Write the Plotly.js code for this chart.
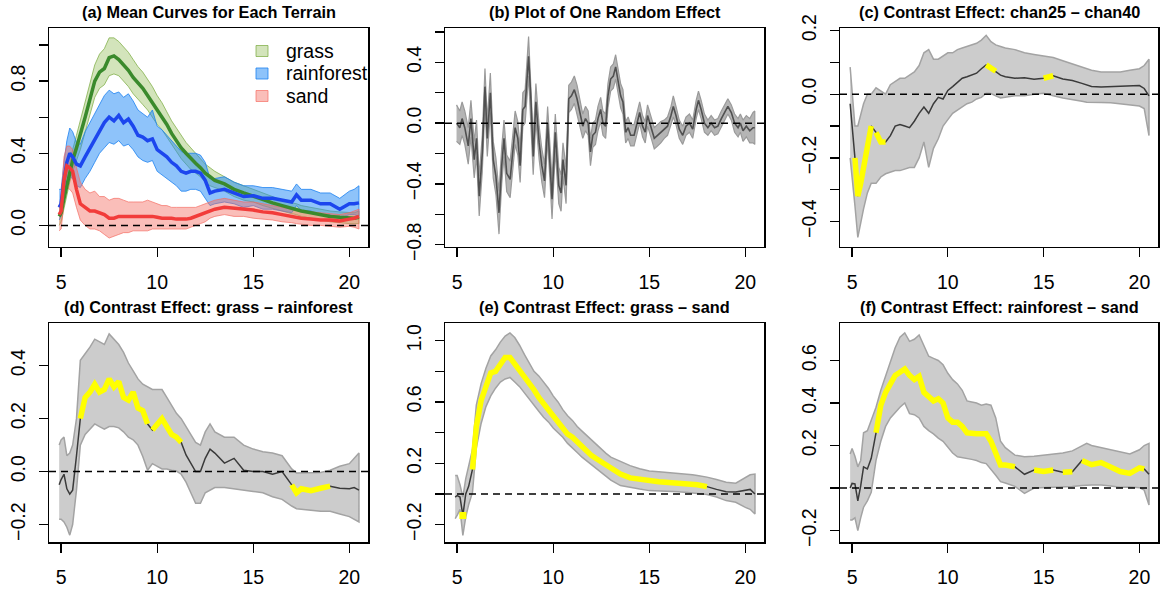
<!DOCTYPE html>
<html><head><meta charset="utf-8">
<script src="https://cdn.plot.ly/plotly-3.0.1.min.js"></script>
<style>html,body{margin:0;padding:0;background:#fff}</style>
</head><body><div id="chart" style="width:1162px;height:591px"></div>
<script>
// ---------- data ----------
const xGrid = [4.9,5.0,5.15,5.3,5.45,5.6,5.8,6.0,6.25,6.5,6.75,7.0,7.25,7.5,7.75,8.0,8.25,8.5,8.75,9.0,9.25,9.5,9.75,10.0,10.25,10.5,10.75,11.0,11.25,11.5,11.75,12.0,12.25,12.5,12.75,13.0,13.5,14.0,14.5,15.0,15.5,16.0,16.5,17.0,17.25,17.5,18.0,18.5,19.0,19.5,20.0,20.25,20.5];

// (a) mean curves
const grassMean = [0.05,0.07,0.15,0.22,0.3,0.36,0.43,0.5,0.6,0.7,0.8,0.85,0.87,0.93,0.94,0.92,0.89,0.86,0.82,0.79,0.76,0.72,0.68,0.64,0.6,0.56,0.51,0.47,0.43,0.4,0.37,0.345,0.32,0.29,0.27,0.25,0.23,0.2,0.18,0.16,0.14,0.125,0.11,0.095,0.09,0.08,0.07,0.06,0.05,0.045,0.04,0.04,0.045];
const grassLo = [0.0,0.02,0.09,0.16,0.24,0.3,0.36,0.42,0.51,0.61,0.71,0.76,0.78,0.83,0.84,0.83,0.8,0.77,0.73,0.7,0.67,0.64,0.6,0.56,0.53,0.49,0.45,0.41,0.37,0.34,0.31,0.29,0.27,0.24,0.22,0.21,0.19,0.16,0.14,0.13,0.11,0.095,0.08,0.065,0.06,0.05,0.04,0.03,0.02,0.015,0.01,0.01,0.01];
const grassHi = [0.1,0.12,0.21,0.28,0.36,0.42,0.5,0.58,0.69,0.79,0.89,0.95,0.98,1.04,1.04,1.02,0.99,0.96,0.92,0.88,0.85,0.81,0.77,0.72,0.68,0.63,0.58,0.54,0.5,0.46,0.43,0.4,0.37,0.34,0.32,0.3,0.27,0.24,0.22,0.2,0.18,0.16,0.14,0.125,0.12,0.11,0.1,0.09,0.08,0.075,0.07,0.07,0.08];
const rainMean = [0.1,0.12,0.25,0.35,0.4,0.38,0.34,0.33,0.38,0.43,0.48,0.53,0.57,0.6,0.58,0.61,0.57,0.59,0.55,0.5,0.49,0.47,0.48,0.42,0.4,0.38,0.35,0.33,0.3,0.29,0.3,0.3,0.29,0.25,0.18,0.19,0.2,0.18,0.16,0.165,0.15,0.15,0.14,0.13,0.17,0.14,0.14,0.12,0.12,0.09,0.12,0.12,0.125];
const rainLo = [0.03,0.05,0.15,0.22,0.27,0.26,0.22,0.21,0.26,0.3,0.35,0.4,0.43,0.46,0.45,0.47,0.44,0.45,0.42,0.38,0.36,0.35,0.36,0.3,0.28,0.26,0.24,0.22,0.19,0.19,0.2,0.2,0.19,0.15,0.11,0.12,0.13,0.12,0.1,0.11,0.09,0.09,0.08,0.07,0.11,0.08,0.08,0.06,0.06,0.04,0.06,0.06,0.05];
const rainHi = [0.2,0.2,0.35,0.47,0.54,0.52,0.46,0.45,0.52,0.57,0.62,0.67,0.72,0.75,0.73,0.74,0.71,0.73,0.69,0.64,0.62,0.6,0.64,0.55,0.53,0.5,0.47,0.44,0.41,0.4,0.4,0.4,0.39,0.35,0.26,0.26,0.27,0.24,0.22,0.22,0.21,0.21,0.2,0.19,0.23,0.2,0.2,0.18,0.18,0.15,0.19,0.2,0.22];
const sandMean = [0.06,0.08,0.25,0.33,0.32,0.3,0.2,0.12,0.1,0.08,0.08,0.07,0.06,0.04,0.04,0.05,0.05,0.05,0.05,0.05,0.05,0.05,0.05,0.045,0.04,0.04,0.04,0.035,0.035,0.035,0.04,0.05,0.055,0.07,0.08,0.09,0.1,0.095,0.09,0.085,0.075,0.07,0.06,0.05,0.045,0.04,0.035,0.03,0.03,0.025,0.035,0.04,0.05];
const sandLo = [-0.03,-0.02,0.12,0.21,0.2,0.18,0.1,0.03,0.0,-0.02,-0.02,-0.03,-0.05,-0.07,-0.06,-0.05,-0.04,-0.04,-0.03,-0.03,-0.03,-0.03,-0.02,-0.02,-0.02,-0.02,-0.02,-0.02,-0.02,-0.02,-0.01,0.0,0.01,0.02,0.04,0.05,0.06,0.05,0.05,0.04,0.035,0.03,0.02,0.015,0.01,0.005,0.0,0.0,-0.005,-0.01,-0.005,-0.01,-0.02];
const sandHi = [0.11,0.15,0.38,0.44,0.44,0.42,0.32,0.24,0.2,0.18,0.19,0.16,0.16,0.14,0.15,0.15,0.14,0.13,0.13,0.13,0.13,0.14,0.13,0.12,0.11,0.11,0.1,0.1,0.1,0.1,0.1,0.1,0.11,0.12,0.13,0.14,0.15,0.14,0.13,0.13,0.12,0.11,0.1,0.09,0.085,0.08,0.075,0.07,0.065,0.06,0.07,0.08,0.09];

// (b) one random effect
const xB = [4.97,5.14,5.26,5.40,5.58,5.72,5.89,6.01,6.15,6.31,6.45,6.57,6.73,6.88,7.02,7.18,7.32,7.44,7.58,7.76,7.88,8.02,8.16,8.28,8.42,8.54,8.72,8.84,8.96,9.10,9.27,9.41,9.55,9.71,9.81,9.94,10.11,10.29,10.41,10.51,10.67,10.81,10.95,11.10,11.24,11.38,11.54,11.68,11.82,11.94,12.06,12.20,12.33,12.47,12.59,12.73,12.85,12.99,13.13,13.25,13.37,13.51,13.63,13.77,13.90,14.03,14.21,14.38,14.50,14.65,14.79,14.91,15.08,15.26,15.43,15.60,15.78,15.95,16.13,16.25,16.39,16.56,16.74,16.91,17.09,17.26,17.44,17.56,17.70,17.87,18.05,18.22,18.40,18.57,18.75,18.92,19.09,19.27,19.44,19.62,19.74,19.88,20.05,20.23,20.40,20.49];
const bMean = [0,-0.03,0.03,-0.03,-0.15,0.03,-0.24,-0.1,-0.48,-0.2,0.24,-0.1,0.2,-0.24,-0.35,-0.59,-0.28,-0.1,-0.33,-0.37,-0.21,-0.03,-0.1,-0.28,0.09,0.11,0.44,0.16,-0.22,0.14,-0.13,-0.28,-0.38,0.0,-0.22,-0.5,-0.06,-0.41,-0.46,-0.24,-0.41,0.16,0.18,0.22,0.16,0.07,-0.02,0.03,0.0,-0.19,-0.08,-0.06,0.03,0.09,0.0,-0.02,0.18,0.29,0.31,0.37,0.29,0.18,0.14,-0.06,-0.03,-0.08,-0.08,0.0,0.07,-0.02,-0.06,0.05,-0.02,-0.1,-0.08,-0.06,-0.04,-0.02,0.05,0.11,0.05,-0.04,-0.08,-0.02,0.0,-0.04,0.09,0.15,0.09,0.0,-0.03,0.0,-0.03,-0.02,0.03,0.07,0.11,0.07,0.0,-0.03,0.0,-0.05,-0.02,-0.05,-0.03,-0.03];
const bLo = [-0.12,-0.14,-0.08,-0.14,-0.27,-0.09,-0.36,-0.22,-0.61,-0.32,0.12,-0.22,0.07,-0.36,-0.47,-0.73,-0.4,-0.22,-0.45,-0.49,-0.32,-0.14,-0.21,-0.39,-0.02,0.0,0.31,0.04,-0.34,0.02,-0.24,-0.39,-0.49,-0.11,-0.33,-0.63,-0.18,-0.53,-0.58,-0.35,-0.53,0.07,0.09,0.13,0.07,-0.01,-0.1,-0.05,-0.08,-0.28,-0.16,-0.14,-0.05,0.01,-0.08,-0.1,0.1,0.21,0.23,0.29,0.21,0.1,0.06,-0.13,-0.1,-0.15,-0.15,-0.07,0.0,-0.09,-0.13,-0.02,-0.09,-0.17,-0.15,-0.13,-0.1,-0.08,-0.01,0.04,-0.01,-0.1,-0.14,-0.08,-0.06,-0.1,0.03,0.09,0.03,-0.06,-0.08,-0.05,-0.08,-0.07,-0.02,0.02,0.06,0.02,-0.06,-0.09,-0.06,-0.12,-0.09,-0.13,-0.13,-0.14];
const bHi = [0.12,0.08,0.14,0.08,-0.03,0.15,-0.12,0.02,-0.35,-0.08,0.36,0.02,0.33,-0.12,-0.23,-0.45,-0.16,0.02,-0.21,-0.25,-0.1,0.08,0.01,-0.17,0.2,0.22,0.57,0.28,-0.1,0.26,-0.02,-0.17,-0.27,0.11,-0.11,-0.37,0.06,-0.29,-0.34,-0.13,-0.29,0.25,0.27,0.31,0.25,0.15,0.06,0.11,0.08,-0.1,0.0,0.02,0.11,0.17,0.08,0.06,0.26,0.37,0.39,0.45,0.37,0.26,0.22,0.01,0.04,-0.01,-0.01,0.07,0.14,0.05,0.01,0.12,0.05,-0.03,-0.01,0.01,0.02,0.04,0.11,0.18,0.11,0.02,-0.02,0.04,0.06,0.02,0.15,0.21,0.15,0.06,0.02,0.05,0.02,0.03,0.08,0.12,0.16,0.12,0.06,0.03,0.06,0.02,0.05,0.03,0.07,0.08];

// (c) chan25 - chan40
const cMean = [-0.03,-0.09,-0.2,-0.32,-0.28,-0.23,-0.17,-0.1,-0.12,-0.15,-0.15,-0.13,-0.1,-0.095,-0.1,-0.105,-0.085,-0.06,-0.04,-0.06,-0.03,-0.01,-0.015,0.012,0.024,0.038,0.05,0.055,0.06,0.066,0.08,0.092,0.082,0.072,0.06,0.055,0.05,0.052,0.047,0.05,0.058,0.048,0.043,0.034,0.03,0.024,0.023,0.024,0.026,0.027,0.027,0.018,-0.005];
const cLo = [-0.2,-0.25,-0.35,-0.45,-0.4,-0.36,-0.31,-0.28,-0.28,-0.26,-0.25,-0.245,-0.24,-0.24,-0.235,-0.23,-0.23,-0.2,-0.15,-0.23,-0.17,-0.14,-0.1,-0.08,-0.06,-0.05,-0.04,-0.03,-0.025,-0.015,-0.01,0.003,0.002,-0.005,-0.012,-0.01,-0.005,-0.005,0.0,0.003,-0.005,-0.012,-0.018,-0.022,-0.025,-0.026,-0.026,-0.027,-0.03,-0.033,-0.037,-0.045,-0.13];
const cHi = [0.085,0.0,-0.1,-0.1,-0.06,-0.03,0.0,0.0,0.02,0.01,0.0,0.03,0.04,0.05,0.05,0.06,0.07,0.09,0.13,0.14,0.11,0.11,0.12,0.13,0.13,0.14,0.145,0.15,0.155,0.16,0.17,0.185,0.165,0.155,0.15,0.145,0.14,0.13,0.125,0.12,0.115,0.105,0.095,0.085,0.08,0.075,0.07,0.07,0.07,0.075,0.08,0.09,0.11];

// (d) grass - rainforest
const dMean = [-0.05,-0.03,-0.01,-0.065,-0.085,-0.07,0.06,0.2,0.28,0.3,0.33,0.3,0.31,0.35,0.32,0.34,0.28,0.27,0.3,0.24,0.23,0.18,0.157,0.18,0.2,0.17,0.14,0.13,0.11,0.063,0.03,0.0,0.0,0.05,0.085,0.07,0.032,0.05,0.005,0.0,0.0,-0.01,0.0,-0.05,-0.08,-0.065,-0.072,-0.063,-0.055,-0.063,-0.065,-0.06,-0.07];
const dLo = [-0.18,-0.18,-0.19,-0.21,-0.24,-0.2,-0.07,0.1,0.14,0.16,0.18,0.17,0.16,0.17,0.17,0.165,0.15,0.13,0.12,0.1,0.057,0.005,0.03,0.02,0.01,0.01,0.005,0.002,-0.01,-0.04,-0.08,-0.12,-0.12,-0.08,-0.07,-0.06,-0.06,-0.065,-0.07,-0.075,-0.08,-0.095,-0.105,-0.13,-0.14,-0.14,-0.145,-0.15,-0.15,-0.16,-0.17,-0.18,-0.19];
const dHi = [0.1,0.12,0.13,0.06,0.07,0.1,0.2,0.42,0.445,0.47,0.5,0.49,0.48,0.52,0.5,0.48,0.45,0.41,0.38,0.35,0.33,0.32,0.31,0.31,0.31,0.28,0.25,0.22,0.2,0.17,0.14,0.11,0.1,0.15,0.18,0.15,0.13,0.13,0.1,0.085,0.075,0.07,0.06,0.01,-0.005,-0.005,-0.005,-0.003,0.005,0.02,0.03,0.05,0.07];

// (e) grass - sand
const eMean = [-0.02,-0.01,-0.02,-0.14,0.0,0.05,0.16,0.44,0.61,0.71,0.79,0.8,0.85,0.89,0.89,0.85,0.81,0.77,0.72,0.68,0.63,0.59,0.56,0.52,0.48,0.43,0.39,0.37,0.34,0.3,0.275,0.25,0.23,0.21,0.185,0.16,0.13,0.105,0.095,0.085,0.08,0.075,0.072,0.07,0.065,0.06,0.048,0.03,0.015,0.013,0.026,0.03,0.0];
const eLo = [-0.16,-0.14,-0.1,-0.27,-0.15,-0.07,0.01,0.3,0.46,0.57,0.64,0.69,0.73,0.75,0.76,0.73,0.7,0.66,0.62,0.58,0.54,0.5,0.47,0.43,0.4,0.37,0.33,0.3,0.27,0.24,0.21,0.185,0.16,0.14,0.115,0.09,0.055,0.043,0.032,0.022,0.02,0.017,0.014,0.01,0.008,0.004,-0.004,-0.02,-0.043,-0.054,-0.087,-0.1,-0.13];
const eHi = [0.12,0.12,0.06,-0.02,0.1,0.18,0.29,0.58,0.72,0.82,0.9,0.94,0.99,1.03,1.05,1.02,0.97,0.91,0.85,0.8,0.77,0.73,0.69,0.64,0.6,0.55,0.51,0.48,0.44,0.41,0.38,0.35,0.32,0.29,0.265,0.24,0.21,0.185,0.165,0.15,0.145,0.14,0.135,0.13,0.125,0.12,0.11,0.095,0.076,0.07,0.11,0.125,0.13];

// (f) rainforest - sand
const fMean = [0.0,0.022,0.02,-0.06,0.01,0.1,0.09,0.14,0.26,0.39,0.45,0.49,0.53,0.545,0.56,0.53,0.51,0.525,0.45,0.43,0.41,0.42,0.4,0.33,0.31,0.31,0.29,0.26,0.256,0.256,0.256,0.256,0.22,0.16,0.108,0.108,0.1,0.065,0.085,0.078,0.085,0.075,0.077,0.13,0.12,0.11,0.12,0.1,0.078,0.069,0.095,0.09,0.065];
const fLo = [-0.15,-0.15,-0.14,-0.2,-0.14,-0.09,-0.06,-0.02,0.13,0.22,0.29,0.33,0.355,0.38,0.4,0.35,0.345,0.33,0.29,0.27,0.255,0.235,0.22,0.19,0.165,0.147,0.145,0.14,0.135,0.13,0.12,0.115,0.09,0.06,0.03,0.024,0.008,-0.025,0.0,0.002,0.004,0.006,0.008,0.012,0.014,0.014,0.015,0.01,0.004,0.005,0.002,-0.01,-0.08];
const fHi = [0.16,0.186,0.15,0.1,0.13,0.26,0.27,0.32,0.38,0.46,0.53,0.59,0.66,0.71,0.73,0.69,0.7,0.72,0.67,0.62,0.61,0.6,0.58,0.54,0.51,0.49,0.46,0.41,0.405,0.4,0.39,0.395,0.39,0.33,0.22,0.19,0.155,0.147,0.15,0.155,0.16,0.165,0.175,0.2,0.21,0.2,0.19,0.18,0.17,0.16,0.18,0.2,0.21];

// significant stretches (band excludes zero), drawn in yellow
const sigC = [[5.1,6.05],[6.2,6.95],[11.95,12.6],[14.9,15.55]];
const sigD = [[5.9,9.55],[9.7,11.3],[17.0,19.05]];
const sigE = [[5.25,5.35],[5.75,18.05]];
const sigF = [[6.1,13.55],[14.4,15.6],[15.9,16.6],[16.9,20.3]];

// titles, legend, ticks
const panelTitles = ['(a) Mean Curves for Each Terrain','(b) Plot of One Random Effect','(c) Contrast Effect: chan25 – chan40','(d) Contrast Effect: grass – rainforest','(e) Contrast Effect: grass – sand','(f) Contrast Effect: rainforest – sand'];
const legendLabels = ['grass','rainforest','sand'];
const xTickVals = [5,10,15,20];
const xTickText = ['5','10','15','20'];
const yTickVals = [
  [0,0.2,0.4,0.6,0.8,1.0],
  [-0.8,-0.6,-0.4,-0.2,0,0.2,0.4,0.6],
  [-0.4,-0.3,-0.2,-0.1,0,0.1,0.2],
  [-0.2,0,0.2,0.4],
  [-0.2,0,0.2,0.4,0.6,0.8,1.0],
  [-0.2,0,0.2,0.4,0.6]
];
const yTickText = [
  ['0.0','','0.4','','0.8',''],
  ['−0.8','','−0.4','','0.0','','0.4',''],
  ['−0.4','','−0.2','','0.0','','0.2'],
  ['−0.2','0.0','0.2','0.4'],
  ['−0.2','','0.2','','0.6','','1.0'],
  ['−0.2','','0.2','0.4','0.6']
];

// ---------- styling / layout ----------
const W = 1162, H = 591;
const FONT = 'Liberation Sans, Arial, Helvetica, sans-serif';
const colPx = [[49,368],[445,764],[840,1158]];
const rowPx = [[28.3,246.7],[323.3,542.3]];
const yRanges = [[-0.118,1.093],[-0.813,0.624],[-0.479,0.207],[-0.267,0.56],[-0.315,1.113],[-0.255,0.775]];
const xRange = [4.37,20.97];

const terrainStyle = [
  {fill:'rgba(140,185,75,0.38)', edge:'rgba(120,170,60,0.7)', line:'#3a8a2c'},
  {fill:'rgba(30,135,245,0.5)', edge:'rgba(30,130,240,0.8)', line:'#1c46ee'},
  {fill:'rgba(245,110,100,0.45)', edge:'rgba(245,110,100,0.7)', line:'#f23c3a'}
];

function ax(i){ return i===0 ? '' : String(i+1); }
function band(x, lo, hi, i, fill, edge, w){
  return {x: x.concat(x.slice().reverse()), y: hi.concat(lo.slice().reverse()),
    type:'scatter', mode:'lines', fill:'toself', fillcolor:fill,
    line:{color:edge, width:w}, hoverinfo:'skip', showlegend:false,
    xaxis:'x'+ax(i), yaxis:'y'+ax(i)};
}
function line(x, y, i, color, w){
  return {x:x, y:y, type:'scatter', mode:'lines', line:{color:color, width:w},
    hoverinfo:'skip', showlegend:false, xaxis:'x'+ax(i), yaxis:'y'+ax(i)};
}
function sigTraces(x, y, ranges, i){
  const lx=[], ly=[], px=[], py=[];
  ranges.forEach(r=>{
    const idx=[];
    x.forEach((v,k)=>{ if(v>=r[0] && v<=r[1]) idx.push(k); });
    if(idx.length===1){ px.push(x[idx[0]]); py.push(y[idx[0]]); }
    else { idx.forEach(k=>{lx.push(x[k]); ly.push(y[k]);}); lx.push(null); ly.push(null); }
  });
  const t=[{x:lx, y:ly, type:'scatter', mode:'lines', connectgaps:false,
    line:{color:'#ffff00', width:5.5}, hoverinfo:'skip', showlegend:false,
    xaxis:'x'+ax(i), yaxis:'y'+ax(i)}];
  if(px.length) t.push({x:px, y:py, type:'scatter', mode:'markers',
    marker:{color:'#ffff00', size:7, symbol:'square'}, hoverinfo:'skip', showlegend:false,
    xaxis:'x'+ax(i), yaxis:'y'+ax(i)});
  return t;
}

const traces = [];
// (a)
const aSets = [[grassLo,grassHi,grassMean],[rainLo,rainHi,rainMean],[sandLo,sandHi,sandMean]];
aSets.forEach((s,k)=> traces.push(band(xGrid, s[0], s[1], 0, terrainStyle[k].fill, terrainStyle[k].edge, 1)));
aSets.forEach((s,k)=> traces.push(line(xGrid, s[2], 0, terrainStyle[k].line, 3.5)));
// (b)
traces.push(band(xB, bLo, bHi, 1, 'rgba(150,150,150,0.7)', '#9a9a9a', 1.2));
traces.push(line(xB, bMean, 1, '#505050', 1.6));
// (c)-(f)
const contrasts = [[cLo,cHi,cMean,sigC],[dLo,dHi,dMean,sigD],[eLo,eHi,eMean,sigE],[fLo,fHi,fMean,sigF]];
contrasts.forEach((s,k)=>{
  const i = k+2;
  traces.push(band(xGrid, s[0], s[1], i, '#cccccc', '#a3a3a3', 1.5));
  traces.push(line(xGrid, s[2], i, '#3a3a3a', 1.5));
  sigTraces(xGrid, s[2], s[3], i).forEach(t=>traces.push(t));
});

const layout = {
  width:W, height:H, margin:{l:0,r:0,t:0,b:0}, paper_bgcolor:'#fff', plot_bgcolor:'#fff',
  showlegend:false, font:{family:FONT, color:'#000'}, shapes:[], annotations:[]
};
for(let i=0;i<6;i++){
  const c=i%3, r=Math.floor(i/3);
  const xd=[colPx[c][0]/W, colPx[c][1]/W];
  const yd=[1-rowPx[r][1]/H, 1-rowPx[r][0]/H];
  layout['xaxis'+ax(i)] = {domain:xd, anchor:'y'+ax(i), range:xRange, tickvals:xTickVals, ticktext:xTickText,
    ticks:'outside', ticklen:9, tickwidth:1.3, tickcolor:'#000', showline:true, linecolor:'#000', linewidth:1.5,
    mirror:true, showgrid:false, zeroline:false, tickfont:{family:FONT, size:19.5, color:'#000'},
    ticklabelstandoff:8, fixedrange:true};
  layout['yaxis'+ax(i)] = {domain:yd, anchor:'x'+ax(i), range:yRanges[i], tickvals:yTickVals[i], ticktext:yTickText[i],
    ticks:'outside', ticklen:9, tickwidth:1.3, tickcolor:'#000', showline:true, linecolor:'#000', linewidth:1.5,
    mirror:true, showgrid:false, zeroline:false, tickangle:-90, tickfont:{family:FONT, size:19.5, color:'#000'},
    ticklabelstandoff:6, fixedrange:true};
  layout.shapes.push({type:'line', xref:'x'+ax(i)+' domain', x0:0, x1:1, yref:'y'+ax(i), y0:0, y1:0,
    line:{color:'#000', width:1.5, dash:'7px,5px'}, layer:'above'});
  layout.annotations.push({text:panelTitles[i], xref:'paper', yref:'paper', x:(xd[0]+xd[1])/2,
    y:1-(r===0?12:307)/H, xanchor:'center', yanchor:'middle', showarrow:false,
    font:{family:FONT, size:16.3, weight:'bold', color:'#000'}});
}
// legend of panel (a)
const legY = [51, 73.5, 96];
legendLabels.forEach((lab,k)=>{
  layout.shapes.push({type:'rect', xref:'paper', yref:'paper', x0:256/W, x1:268/W,
    y0:1-(legY[k]+5.5)/H, y1:1-(legY[k]-5.5)/H, fillcolor:terrainStyle[k].fill,
    line:{color:terrainStyle[k].edge, width:1}});
  layout.annotations.push({text:lab, xref:'paper', yref:'paper', x:284/W, y:1-legY[k]/H,
    xanchor:'left', yanchor:'middle', showarrow:false, font:{family:FONT, size:19.5, color:'#000'}});
});

Plotly.newPlot('chart', traces, layout, {staticPlot:true, displayModeBar:false});
</script></body></html>
